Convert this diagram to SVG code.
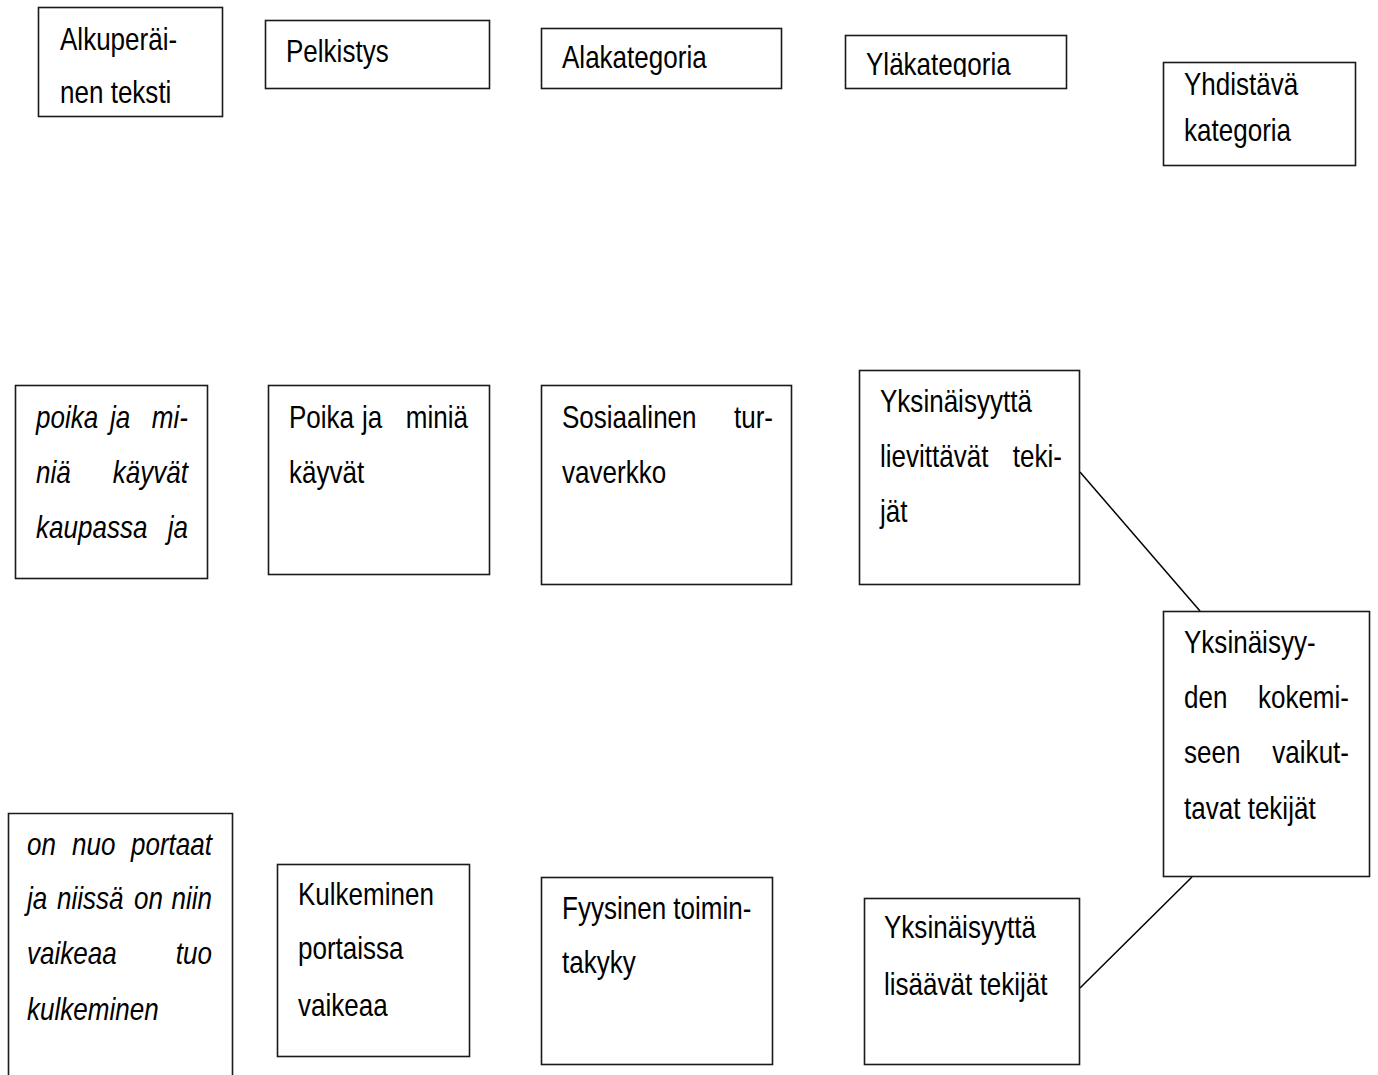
<svg xmlns="http://www.w3.org/2000/svg" width="1378" height="1075" viewBox="0 0 1378 1075">
<style>
.box{fill:#fff;stroke:#1a1a1a;stroke-width:1.6}
.t{font-family:"Liberation Sans",Arial,sans-serif;font-size:31px;fill:#000}
.i{font-style:italic}
.e{text-anchor:end}
.ln{stroke:#000;stroke-width:1.5;fill:none}
</style>
<defs>
<clipPath id="clipYla"><rect x="845" y="35" width="222" height="42"/></clipPath>
</defs>
<rect width="1378" height="1075" fill="#fff"/>
<g id="connectors">
<line class="ln" x1="1080" y1="472" x2="1200" y2="611"/>
<line class="ln" x1="1080" y1="988" x2="1192" y2="877"/>
</g>
<g id="n-alkuperainen">
<rect class="box" x="38.5" y="7.5" width="184" height="109"/>
<text class="t" transform="translate(60 50) scale(0.84 1)">Alkuperäi-</text>
<text class="t" transform="translate(60 103) scale(0.84 1)">nen teksti</text>
</g>
<g id="n-pelkistys">
<rect class="box" x="265.5" y="20.5" width="224" height="68"/>
<text class="t" transform="translate(286 62) scale(0.84 1)">Pelkistys</text>
</g>
<g id="n-alakategoria">
<rect class="box" x="541.5" y="28.5" width="240" height="60"/>
<text class="t" transform="translate(562 68) scale(0.84 1)">Alakategoria</text>
</g>
<g id="n-ylakategoria">
<rect class="box" x="845.5" y="35.5" width="221" height="53"/>
<g clip-path="url(#clipYla)">
<text class="t" transform="translate(866 75) scale(0.84 1)">Yläkategoria</text>
</g>
</g>
<g id="n-yhdistava">
<rect class="box" x="1163.5" y="62.5" width="192" height="103"/>
<text class="t" transform="translate(1184 95) scale(0.84 1)">Yhdistävä</text>
<text class="t" transform="translate(1184 141) scale(0.84 1)">kategoria</text>
</g>
<g id="n-poika-orig">
<rect class="box" x="15.5" y="385.5" width="192" height="193"/>
<text class="t i" transform="translate(36 428) scale(0.84 1)">poika</text>
<text class="t i" transform="translate(110 428) scale(0.84 1)">ja</text>
<text class="t i e" transform="translate(188 428) scale(0.84 1)">mi-</text>
<text class="t i" transform="translate(36 483) scale(0.84 1)">niä</text>
<text class="t i e" transform="translate(188 483) scale(0.84 1)">käyvät</text>
<text class="t i" transform="translate(36 538) scale(0.84 1)">kaupassa</text>
<text class="t i e" transform="translate(188 538) scale(0.84 1)">ja</text>
</g>
<g id="n-poika-pelk">
<rect class="box" x="268.5" y="385.5" width="221" height="189"/>
<text class="t" transform="translate(289 428) scale(0.84 1)">Poika</text>
<text class="t" transform="translate(362 428) scale(0.84 1)">ja</text>
<text class="t e" transform="translate(468 428) scale(0.84 1)">miniä</text>
<text class="t" transform="translate(289 483) scale(0.84 1)">käyvät</text>
</g>
<g id="n-sosiaalinen">
<rect class="box" x="541.5" y="385.5" width="250" height="199"/>
<text class="t" transform="translate(562 428) scale(0.84 1)">Sosiaalinen</text>
<text class="t e" transform="translate(773 428) scale(0.84 1)">tur-</text>
<text class="t" transform="translate(562 483) scale(0.84 1)">vaverkko</text>
</g>
<g id="n-lievittavat">
<rect class="box" x="859.5" y="370.5" width="220" height="214"/>
<text class="t" transform="translate(880 412) scale(0.84 1)">Yksinäisyyttä</text>
<text class="t" transform="translate(880 467) scale(0.84 1)">lievittävät</text>
<text class="t e" transform="translate(1062 467) scale(0.84 1)">teki-</text>
<text class="t" transform="translate(880 522) scale(0.84 1)">jät</text>
</g>
<g id="n-kokemiseen">
<rect class="box" x="1163.5" y="611.5" width="206" height="265"/>
<text class="t" transform="translate(1184 653) scale(0.84 1)">Yksinäisyy-</text>
<text class="t" transform="translate(1184 708) scale(0.84 1)">den</text>
<text class="t e" transform="translate(1349 708) scale(0.84 1)">kokemi-</text>
<text class="t" transform="translate(1184 763) scale(0.84 1)">seen</text>
<text class="t e" transform="translate(1349 763) scale(0.84 1)">vaikut-</text>
<text class="t" transform="translate(1184 819) scale(0.84 1)">tavat tekijät</text>
</g>
<g id="n-portaat-orig">
<path class="box" d="M8.5 1076 V813.5 H232.5 V1076"/>
<text class="t i" transform="translate(27 855) scale(0.84 1)">on</text>
<text class="t i" transform="translate(72 855) scale(0.84 1)">nuo</text>
<text class="t i e" transform="translate(212 855) scale(0.84 1)">portaat</text>
<text class="t i" transform="translate(27 909) scale(0.84 1)">ja</text>
<text class="t i" transform="translate(57 909) scale(0.84 1)">niissä</text>
<text class="t i" transform="translate(134 909) scale(0.84 1)">on</text>
<text class="t i e" transform="translate(212 909) scale(0.84 1)">niin</text>
<text class="t i" transform="translate(27 964) scale(0.84 1)">vaikeaa</text>
<text class="t i e" transform="translate(212 964) scale(0.84 1)">tuo</text>
<text class="t i" transform="translate(27 1020) scale(0.84 1)">kulkeminen</text>
</g>
<g id="n-kulkeminen">
<rect class="box" x="277.5" y="864.5" width="192" height="192"/>
<text class="t" transform="translate(298 905) scale(0.84 1)">Kulkeminen</text>
<text class="t" transform="translate(298 959) scale(0.84 1)">portaissa</text>
<text class="t" transform="translate(298 1016) scale(0.84 1)">vaikeaa</text>
</g>
<g id="n-fyysinen">
<rect class="box" x="541.5" y="877.5" width="231" height="187"/>
<text class="t" transform="translate(562 919) scale(0.84 1)">Fyysinen toimin-</text>
<text class="t" transform="translate(562 973) scale(0.84 1)">takyky</text>
</g>
<g id="n-lisaavat">
<rect class="box" x="864.5" y="898.5" width="215" height="166"/>
<text class="t" transform="translate(884 938) scale(0.84 1)">Yksinäisyyttä</text>
<text class="t" transform="translate(884 995) scale(0.84 1)">lisäävät tekijät</text>
</g>
</svg>
